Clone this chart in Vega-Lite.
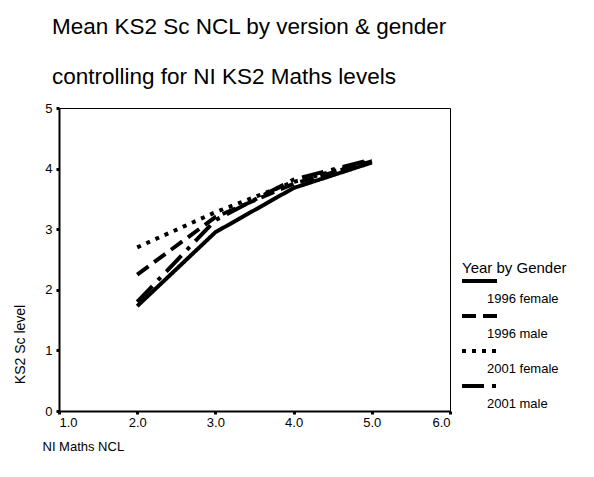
{
  "$schema": "https://vega.github.io/schema/vega-lite/v6.json",
  "width": 391,
  "height": 303,
  "autosize": "none",
  "padding": {"left": 59, "top": 108, "right": 144, "bottom": 66},
  "background": "white",
  "config": {
    "font": "Liberation Sans",
    "view": {"stroke": "black", "strokeWidth": 1}
  },
  "title": {
    "text": ["Mean KS2 Sc NCL by version & gender", "controlling for NI KS2 Maths levels"],
    "anchor": "start",
    "frame": "group",
    "fontSize": 22.5,
    "fontWeight": "normal",
    "color": "black",
    "lineHeight": 50,
    "baseline": "alphabetic",
    "dx": -7,
    "offset": -4
  },
  "data": {
    "values": [
      {"series": "1996 female", "maths": 2, "sc": 1.73},
      {"series": "1996 female", "maths": 3, "sc": 2.95},
      {"series": "1996 female", "maths": 4, "sc": 3.68},
      {"series": "1996 female", "maths": 5, "sc": 4.10},
      {"series": "1996 male", "maths": 2, "sc": 2.25},
      {"series": "1996 male", "maths": 3, "sc": 3.20},
      {"series": "1996 male", "maths": 4, "sc": 3.75},
      {"series": "1996 male", "maths": 5, "sc": 4.12},
      {"series": "2001 female", "maths": 2, "sc": 2.70},
      {"series": "2001 female", "maths": 3, "sc": 3.28},
      {"series": "2001 female", "maths": 4, "sc": 3.78},
      {"series": "2001 female", "maths": 5, "sc": 4.13},
      {"series": "2001 male", "maths": 2, "sc": 1.80},
      {"series": "2001 male", "maths": 3, "sc": 3.15},
      {"series": "2001 male", "maths": 4, "sc": 3.82},
      {"series": "2001 male", "maths": 5, "sc": 4.15}
    ]
  },
  "mark": {"type": "line", "color": "black", "strokeWidth": 4, "strokeCap": "butt"},
  "encoding": {
    "x": {
      "field": "maths", "type": "quantitative",
      "scale": {"domain": [1, 6], "nice": false, "zero": false},
      "axis": {
        "title": "NI Maths NCL", "values": [1, 2, 3, 4, 5, 6], "format": ".1f",
        "grid": false, "domainColor": "black", "domainWidth": 2,
        "tickColor": "black", "tickSize": 3, "tickWidth": 3,
        "labelFontSize": 13, "labelColor": "black", "labelPadding": 2,
        "titleFontSize": 13, "titleFontWeight": "normal", "titleColor": "black",
        "titleAnchor": "start", "titleAlign": "left", "titleX": -17, "titleY": 35, "titleBaseline": "middle"
      }
    },
    "y": {
      "field": "sc", "type": "quantitative",
      "scale": {"domain": [0, 5], "nice": false},
      "axis": {
        "title": "KS2 Sc level", "values": [0, 1, 2, 3, 4, 5],
        "grid": false, "domainColor": "black", "domainWidth": 2,
        "tickColor": "black", "tickSize": 3, "tickWidth": 3,
        "labelFontSize": 13, "labelColor": "black", "labelPadding": 4,
        "titleFontSize": 14, "titleFontWeight": "normal", "titleColor": "black",
        "titleX": -39, "titleY": 236, "titleAlign": "center", "titleBaseline": "middle", "titleAngle": -90
      }
    },
    "strokeDash": {
      "field": "series", "type": "nominal",
      "scale": {
        "domain": ["1996 female", "1996 male", "2001 female", "2001 male"],
        "range": [[1, 0], [14, 7], [4, 6], [22, 8, 4, 8]]
      },
      "legend": {
        "title": "Year by Gender",
        "orient": "none", "legendX": 403, "legendY": 153,
        "titleFontSize": 15, "titleFontWeight": "normal", "titleColor": "black", "titlePadding": -2,
        "symbolType": "M-3.5,0H3.5", "symbolSize": 100, "symbolStrokeWidth": 4, "symbolStrokeColor": "black",
        "symbolFillColor": "transparent",
        "symbolOffset": 10.5,
        "labelFontSize": 13, "labelColor": "black", "labelOffset": 0.5,
        "rowPadding": 2,
        "encode": {
          "labels": {"update": {"dy": {"value": 18}}}
        }
      }
    }
  }
}
